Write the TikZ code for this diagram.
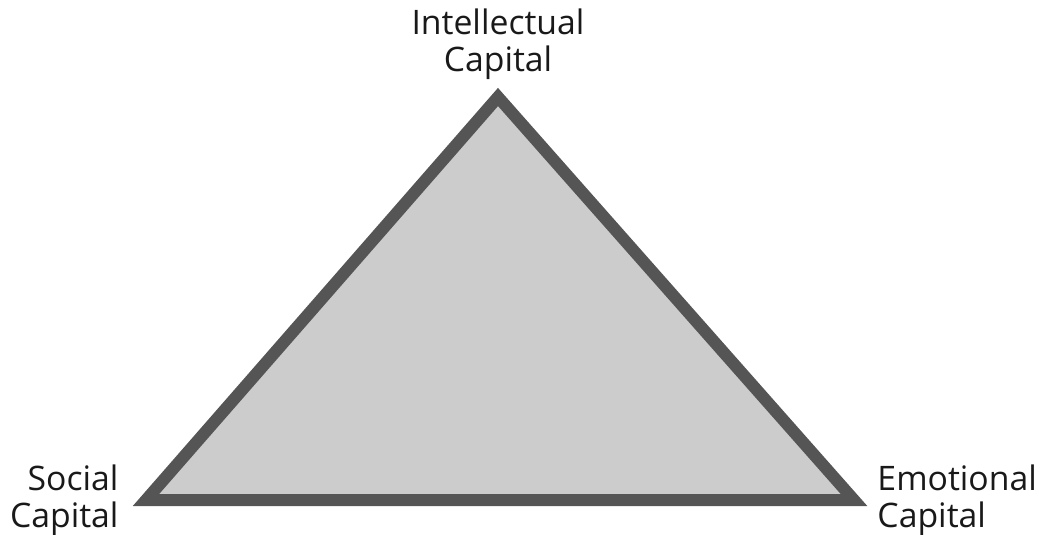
\documentclass[tikz,border=0pt]{standalone}
\usepackage{fontspec}
\setmainfont{Open Sans}
\usepackage{tikz}
\usetikzlibrary{positioning}
\definecolor{edgegray}{RGB}{85, 85, 85}
\definecolor{facegray}{RGB}{204, 204, 204}

\begin{document}
\begin{tikzpicture}[
  x=0.025cm, y=-0.025cm,
  capname/.style={font=\fontsize{24}{26.5}\selectfont, inner sep=0pt, text=black!90},
  tri/.style={fill=facegray, draw=edgegray, line width=0.3cm},
]
  % Page frame
  \useasboundingbox (0,0) rectangle (1045,534);

  % Corners of the triangle
  \coordinate (top) at (498,97);
  \coordinate (left) at (146,500);
  \coordinate (right) at (854,500);

  % Triangle
  \draw[tri] (top) -- (right) -- (left) -- cycle;

  % Labels
  \node[capname, align=center, above=0.42cm of top] (intel) {Intellectual\\Capital};
  \node[capname, align=right, left=0.68cm of left] (social) {Social\\Capital};
  \node[capname, align=left, right=0.58cm of right] (emot) {Emotional\\Capital};

\end{tikzpicture}
\end{document}
